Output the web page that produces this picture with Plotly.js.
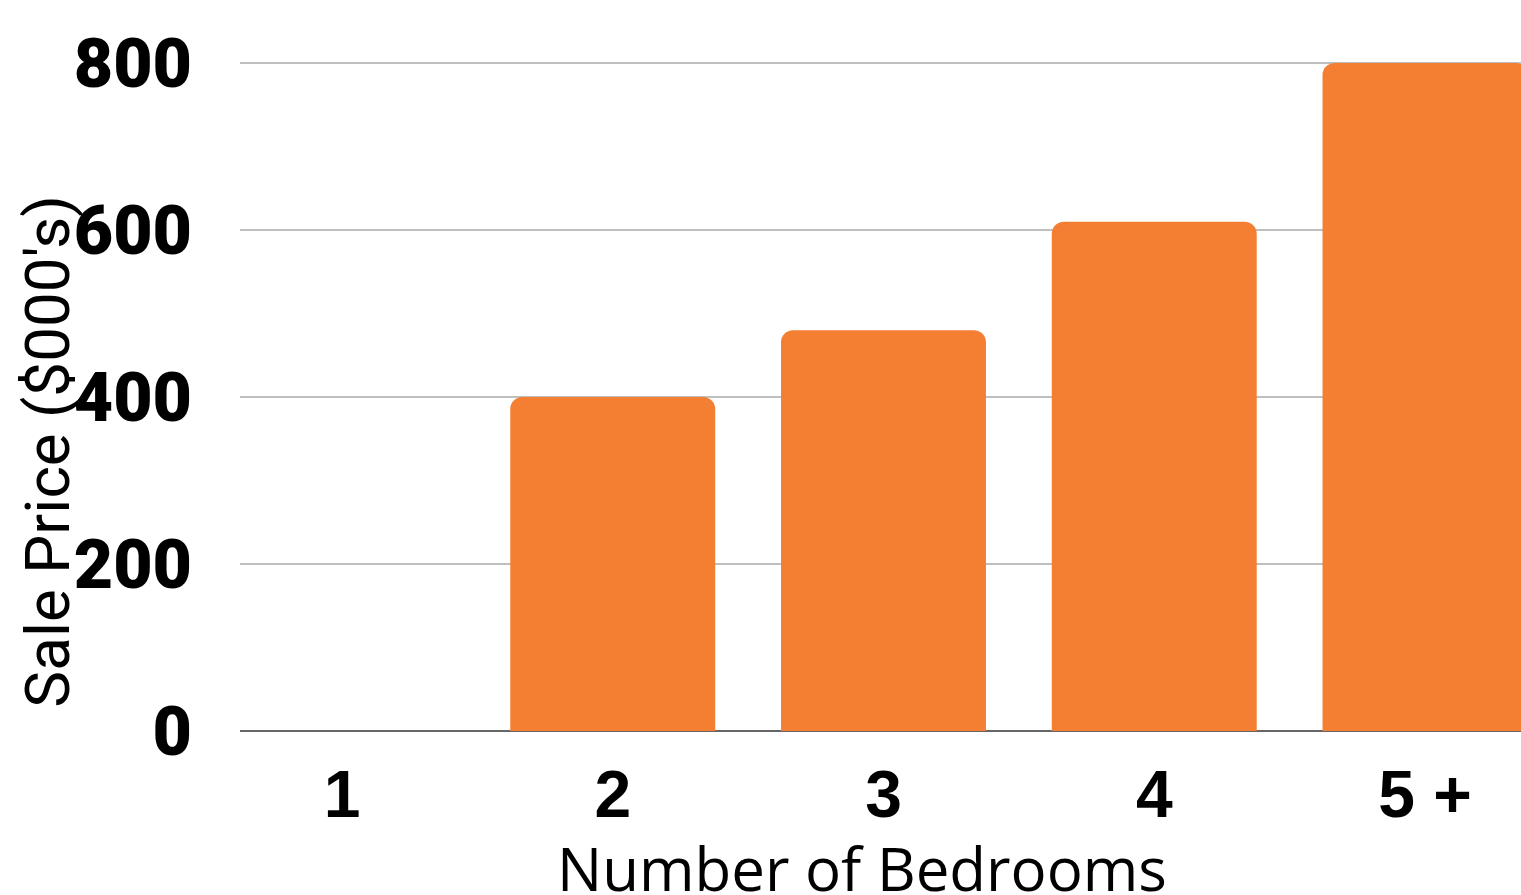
<!DOCTYPE html>
<html>
<head>
<meta charset="utf-8">
<script src="https://cdn.plot.ly/plotly-3.0.1.min.js"></script>
<style>
html, body { margin: 0; padding: 0; background: #ffffff; }
#chart { width: 1521px; height: 895px; }
</style>
</head>
<body>
<div id="chart"></div>
<script>
const categories = ["1", "2", "3", "4", "5 +"];
const salePrice = [0, 400, 480, 610, 800];
const yTickValues = [0, 200, 400, 600, 800];
const yTickLabels = ["0", "200", "400", "600", "800"];
const xTitle = "Number of Bedrooms";
const yTitle = "Sale Price ($000's)";

const trace = {
  type: "bar",
  x: categories,
  y: salePrice,
  marker: { color: "#F47F33", line: { width: 0 } },
  hoverinfo: "x+y"
};

const layout = {
  width: 1521,
  height: 895,
  margin: { l: 240, r: 0, t: 55, b: 164 },
  paper_bgcolor: "#ffffff",
  plot_bgcolor: "#ffffff",
  showlegend: false,
  bargap: 0.243,
  barcornerradius: 12,
  xaxis: {
    type: "category",
    range: [-0.3767, 4.3546],
    showgrid: false,
    zeroline: false,
    showline: false,
    ticks: "",
    tickfont: { family: "Liberation Sans, Arial, sans-serif", size: 66, color: "#000000", weight: "bold" },
    ticklabelstandoff: 19,
    fixedrange: true
  },
  yaxis: {
    range: [0, 809.6],
    tickvals: yTickValues,
    ticktext: yTickLabels,
    showgrid: true,
    gridcolor: "#BFBFBF",
    gridwidth: 1.5,
    zeroline: true,
    zerolinecolor: "#666666",
    zerolinewidth: 2,
    showline: false,
    ticks: "",
    tickfont: { family: "Roboto, sans-serif", size: 68, color: "#000000", weight: 900 },
    ticklabelstandoff: 47,
    fixedrange: true
  },
  annotations: [
    {
      text: xTitle,
      xref: "paper", yref: "paper",
      x: 0.4857, y: -0.203,
      xanchor: "center", yanchor: "middle",
      showarrow: false,
      font: { family: "Open Sans, sans-serif", size: 60, color: "#000000" }
    },
    {
      text: yTitle,
      xref: "paper", yref: "paper",
      x: -0.15, y: 0.413,
      xanchor: "center", yanchor: "middle",
      textangle: -90,
      showarrow: false,
      font: { family: "Roboto, sans-serif", size: 62, color: "#000000", weight: 400 }
    }
  ]
};

Plotly.newPlot("chart", [trace], layout, { displayModeBar: false, staticPlot: true });
</script>
</body>
</html>
